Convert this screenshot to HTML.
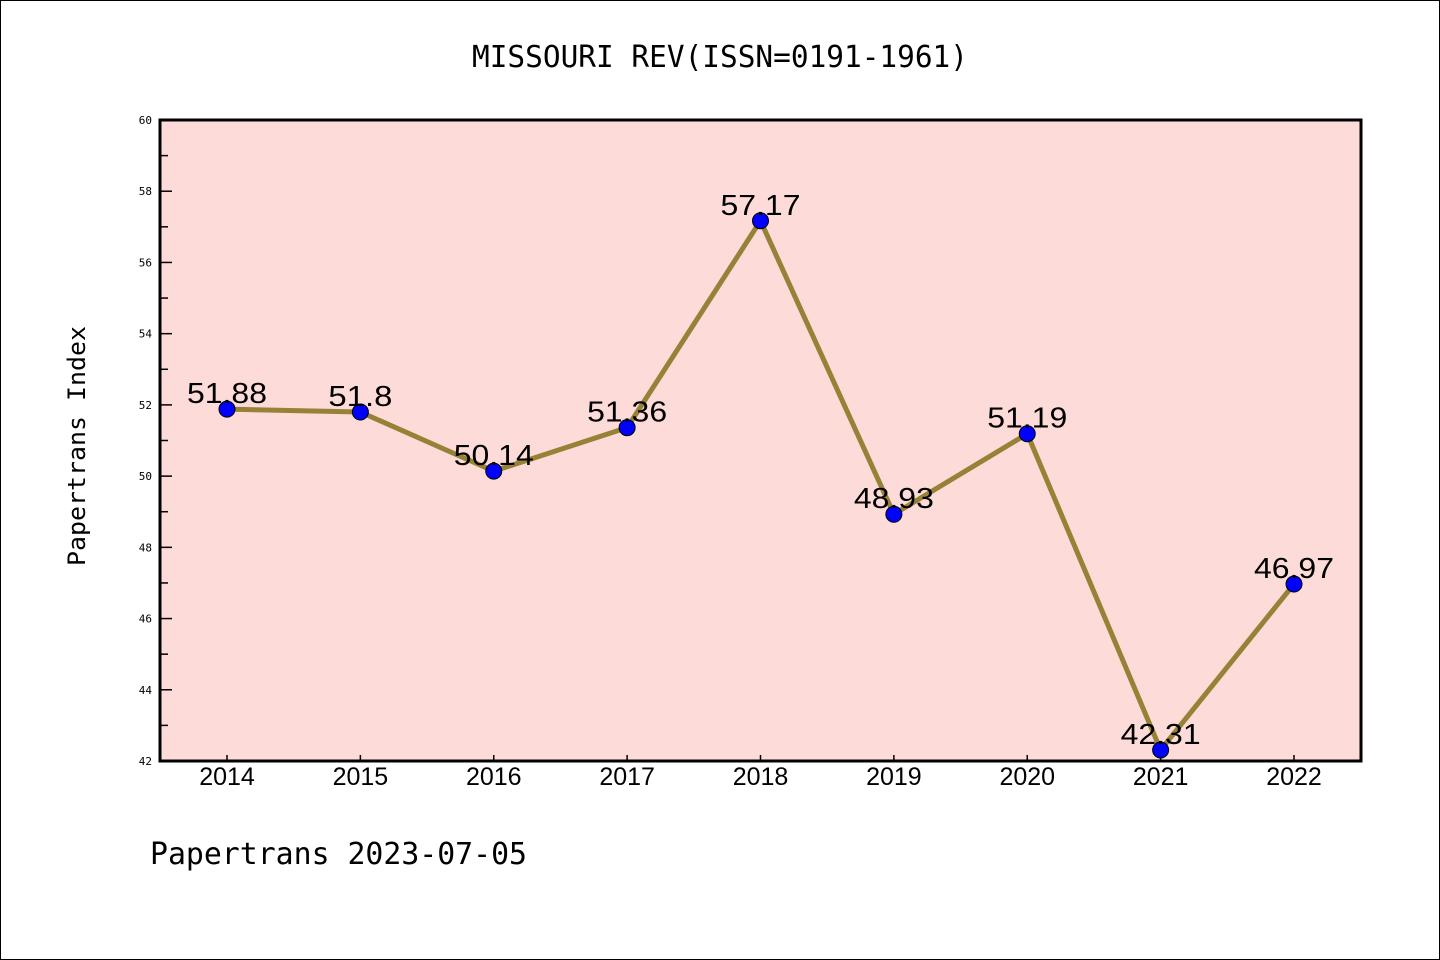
<!DOCTYPE html>
<html><head><meta charset="utf-8"><style>
html,body{margin:0;padding:0;background:#fff;}
svg{display:block;font-family:"WenQuanYi Zen Hei","DejaVu Sans Mono",monospace;}
</style></head><body>
<svg id="chart" width="1440" height="960" xmlns="http://www.w3.org/2000/svg">
<rect x="0.5" y="0.5" width="1439" height="959" fill="#fff" stroke="#000" stroke-width="1"/>
<text x="472" y="67" font-size="30" textLength="496" lengthAdjust="spacingAndGlyphs">MISSOURI REV(ISSN=0191-1961)</text>
<rect x="160" y="120" width="1201" height="641" fill="#fddbd8"/>
<g id="axes"></g>
<g id="marks"></g>
<rect x="160" y="120" width="1201" height="641" fill="none" stroke="#000" stroke-width="3"/>
<text x="85" y="446" text-anchor="middle" font-size="24" textLength="240" lengthAdjust="spacingAndGlyphs" transform="rotate(-90 85 446)">Papertrans Index</text>
<text x="150" y="864" font-size="30" textLength="377" lengthAdjust="spacingAndGlyphs">Papertrans 2023-07-05</text>
</svg>
<script>
const years = [2014,2015,2016,2017,2018,2019,2020,2021,2022];
const values = [51.88,51.8,50.14,51.36,57.17,48.93,51.19,42.31,46.97];
const labels = ["51.88","51.8","50.14","51.36","57.17","48.93","51.19","42.31","46.97"];
const yTicks = [42,44,46,48,50,52,54,56,58,60];
const NS="http://www.w3.org/2000/svg";
const x0=160,x1=1361,yTop=120,yBot=761;
function xs(i){return 227+i*(1294-227)/(years.length-1);}
function ys(v){return yBot-(v-42)/(60-42)*(yBot-yTop);}
function mk(tag,attrs,parent){const e=document.createElementNS(NS,tag);for(const k in attrs)e.setAttribute(k,attrs[k]);parent.appendChild(e);return e;}
const axes=document.getElementById('axes'), marks=document.getElementById('marks');
yTicks.forEach((t,i)=>{
  const y=ys(t);
  const l=mk('line',{x1:x0,x2:x0+12,y1:y,y2:y,stroke:'#000','stroke-width':1.5},axes);
  
  
  const tx=mk('text',{x:152,y:y+4,'text-anchor':'end','font-size':11},axes);
  tx.textContent=t;
  
  
  if(i<yTicks.length-1){
    const ym=ys(t+1);
    const m=mk('line',{x1:x0,x2:x0+8,y1:ym,y2:ym,stroke:'#000','stroke-width':1.5},axes);
    
    
  }
});
years.forEach((yr,i)=>{
  const x=xs(i);
  const l=mk('line',{x1:x,x2:x,y1:yBot,y2:yBot-6,stroke:'#000','stroke-width':1.5},axes);
  
  
  const tx=mk('text',{x:x,y:785,'text-anchor':'middle','font-size':25,'font-family':'"Liberation Sans",sans-serif'},axes);
  tx.textContent=yr;
  
  
});
const pts=values.map((v,i)=>xs(i)+','+ys(v)).join(' ');
const line=mk('polyline',{points:pts,fill:'none',stroke:'#968236','stroke-width':5,'stroke-linejoin':'round'},marks);


values.forEach((v,i)=>{
  const c=mk('circle',{cx:xs(i),cy:ys(v),r:8,fill:'#0000ff',stroke:'#000','stroke-width':1},marks);
  
  
  const t=mk('text',{x:xs(i),y:ys(v)-6,'text-anchor':'middle','font-size':29,'font-family':'"Liberation Sans",sans-serif',textLength:labels[i].length*16,lengthAdjust:'spacingAndGlyphs'},marks);
  t.textContent=labels[i];
  
  
});
</script>
</body></html>
